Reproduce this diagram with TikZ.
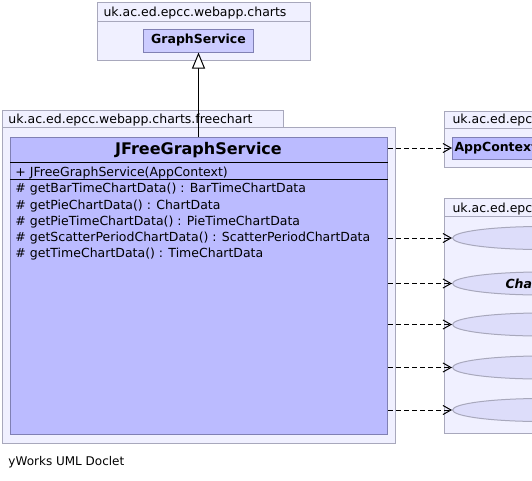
\documentclass[tikz,border=0pt]{standalone}
\usepackage{fontspec}
\setmainfont{DejaVu Sans}
\usepackage{tikz}
\usetikzlibrary{graphs}
\usetikzlibrary{arrows.meta}
\usetikzlibrary{shapes.geometric}
\usepackage{xcolor}

\definecolor{pkgfill}{RGB}{240,240,255}
\definecolor{pkgline}{RGB}{168,168,188}
\definecolor{classfill}{RGB}{187,187,255}
\definecolor{classline}{RGB}{128,128,180}
\definecolor{ifill}{RGB}{204,204,255}
\definecolor{efill}{RGB}{221,221,250}

\tikzset{
  pkgbox/.style={draw=pkgline, fill=pkgfill, anchor=north west, inner sep=0pt},
  classbox/.style={draw=classline, fill=classfill, anchor=north west, inner sep=0pt},
  usebox/.style={draw=pkgline, fill=efill, shape=ellipse, anchor=west, inner sep=0pt,
    minimum width=178, minimum height=23, font=\fontsize{12.5}{15}\selectfont\bfseries\itshape},
  txt/.style={anchor=base west, inner sep=0pt},
  dep/.style={-{Straight Barb[length=8pt, width=9pt]}, dash pattern=on 5pt off 3pt, black},
  inh/.style={-{Triangle[open, length=16pt, width=13pt, fill=white]}, black}
}

\begin{document}
\begin{tikzpicture}[x=1pt, y=-1pt, line width=1pt, font=\fontsize{12.5}{15}\selectfont]
        \path[use as bounding box] (0,0) rectangle (532,480);
        \clip (0,0) rectangle (532,480);

        % package uk.ac.ed.epcc.webapp.charts
        \node[pkgbox, minimum width=213, minimum height=19] (chartstab) at (97,2) {};
        \node[pkgbox, minimum width=213, minimum height=39] (charts) at (97,21) {};
        \node[txt] (chartsname) at (103,16.5) {uk.ac.ed.epcc.webapp.charts};
        \node[classbox, fill=ifill, minimum width=110, minimum height=23, anchor=center,
              font=\fontsize{12.5}{15}\selectfont\bfseries] (gs) at (198.5,40.5) {GraphService};

        % package uk.ac.ed.epcc.webapp.charts.freechart
        \node[pkgbox, minimum width=281, minimum height=17] (freetab) at (2,110) {};
        \node[pkgbox, minimum width=393, minimum height=316] (free) at (2,127) {};
        \node[txt] (freename) at (8,123.5) {uk.ac.ed.epcc.webapp.charts.freechart};
        \node[classbox, minimum width=377, minimum height=297] (jfree) at (10,137) {};
        \node[font=\fontsize{16}{19}\selectfont\bfseries] (jfreename) at (198.5,150) {JFreeGraphService};
        \draw (jfree.west |- 0,162) -- (jfree.east |- 0,162);
        \draw (jfree.west |- 0,179) -- (jfree.east |- 0,179);
        \node[txt] (ctor) at (15,176) {+ JFreeGraphService(AppContext)};
        \node[txt] (m1) at (15,192.5) {\#\ getBarTimeChartData() : BarTimeChartData};
        \node[txt] (m2) at (15,209) {\#\ getPieChartData() : ChartData};
        \node[txt] (m3) at (15,225) {\#\ getPieTimeChartData() : PieTimeChartData};
        \node[txt] (m4) at (15,241.5) {\#\ getScatterPeriodChartData() : ScatterPeriodChartData};
        \node[txt] (m5) at (15,257.5) {\#\ getTimeChartData() : TimeChartData};

        % package of AppContext
        \node[pkgbox, minimum width=120, minimum height=17] (apptab) at (444,111) {};
        \node[pkgbox, minimum width=120, minimum height=39] (apppkg) at (444,128) {};
        \node[txt] (appname) at (452,123.5) {uk.ac.ed.epcc};
        \node[classbox, minimum width=110, minimum height=22, anchor=west,
              font=\fontsize{12.5}{15}\selectfont\bfseries] (app) at (452,148) {\hspace*{2pt}AppContext\hspace*{30pt}};

        % package of the chart data
        \node[pkgbox, minimum width=120, minimum height=18] (datatab) at (444,198) {};
        \node[pkgbox, minimum width=120, minimum height=217] (datapkg) at (444,216) {};
        \node[txt] (dataname) at (452,212) {uk.ac.ed.epcc};
        \node[usebox] (e1) at (452,238) {};
        \node[usebox] (e2) at (452,283.5) {ChartData};
        \node[usebox] (e3) at (452,324.5) {};
        \node[usebox] (e4) at (452,367.5) {};
        \node[usebox] (e5) at (452,410) {};

        \coordinate (sa) at (jfree.east |- app);
        \coordinate (s1) at (jfree.east |- e1);
        \coordinate (s2) at (jfree.east |- e2);
        \coordinate (s3) at (jfree.east |- e3);
        \coordinate (s4) at (jfree.east |- e4);
        \coordinate (s5) at (jfree.east |- e5);
        \coordinate (top) at (jfree.north -| gs);

        \graph {(top) ->[inh] (gs)};
        \graph {(sa) ->[dep] (app)};
        \graph {(s1) ->[dep] (e1)};
        \graph {(s2) ->[dep] (e2)};
        \graph {(s3) ->[dep] (e3)};
        \graph {(s4) ->[dep] (e4)};
        \graph {(s5) ->[dep] (e5)};

        \node[txt, font=\fontsize{12}{14}\selectfont] (doclet) at (8,465) {yWorks UML Doclet};
    \end{tikzpicture}
\end{document}
